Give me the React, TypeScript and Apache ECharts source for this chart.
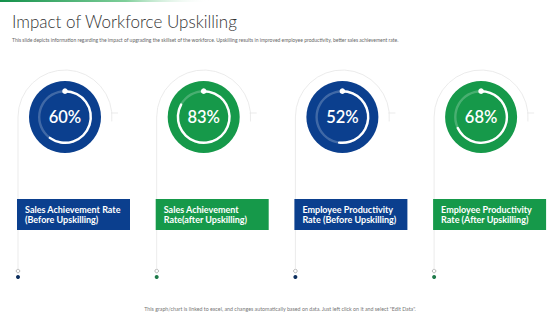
import React, { useEffect, useRef } from "react";
import * as echarts from "echarts";

const categories = [
  "Sales Achievement Rate\n(Before Upskilling)",
  "Sales Achievement\nRate(after Upskilling)",
  "Employee Productivity\nRate (Before Upskilling)",
  "Employee Productivity\nRate (After Upskilling)",
];
const values = [60, 83, 52, 68];
const palette = ["#0b3f8e", "#16994a", "#0b3f8e", "#16994a"];
const dotColors = ["#0d2f5e", "#1f7a4a", "#0d2f5e", "#1f7a4a"];

const titleText = "Impact of Workforce Upskilling";
const subtitleText =
  "This slide depicts information regarding the impact of upgrading the skillset of the workforce. Upskilling results in improved employee productivity, better sales achievement rate.";
const footerText =
  'This graph/chart is linked to excel, and changes automatically based on data. Just left click on it and select "Edit Data".';

const W = 560;
const H = 315;
const boxLeft0 = 17;
const stepX = 138.7;
const boxW = 113;
const boxTop = 199;
const boxH = 31;
const gcx0 = 65;
const gcy = 117;
const bgR = 36;
const ringR = 27;
const outlineR = 47;
const FONT = "Lato, 'Open Sans', sans-serif";

export default function App() {
  const ref = useRef<HTMLDivElement>(null);
  useEffect(() => {
    if (!ref.current) return;
    const chart = echarts.init(ref.current, null, { renderer: "svg" });
    const graphics: any[] = [];
    graphics.push({
      type: "rect",
      shape: { x: 0, y: 0, width: 210, height: 2 },
      style: {
        fill: new echarts.graphic.LinearGradient(0, 0, 1, 0, [
          { offset: 0, color: "#13904a" },
          { offset: 0.6, color: "#7fcf9a" },
          { offset: 1, color: "rgba(255,255,255,0)" },
        ]),
      },
    });
    graphics.push({
      type: "text",
      left: 12,
      top: 13,
      style: { text: titleText, fill: "#333333", font: `300 17px ${FONT}` },
    });
    graphics.push({
      type: "text",
      left: 12,
      top: 37,
      style: { text: subtitleText, fill: "#666666", font: `5px ${FONT}` },
    });
    graphics.push({
      type: "text",
      x: 280,
      y: 309,
      style: {
        text: footerText,
        fill: "#777777",
        font: `5.3px ${FONT}`,
        align: "center",
        verticalAlign: "middle",
      },
    });
    const series: any[] = [];
    categories.forEach((cat, i) => {
      const bx = boxLeft0 + stepX * i;
      const cx = gcx0 + stepX * i;
      const lx = cx - outlineR;
      graphics.push({
        type: "arc",
        shape: { cx, cy: gcy, r: outlineR, startAngle: Math.PI, endAngle: Math.PI * 2.03, clockwise: true },
        style: { stroke: "#e6e6e6", lineWidth: 0.8, fill: "none" },
        z: 1,
      });
      graphics.push({
        type: "line",
        shape: { x1: cx + outlineR - 1, y1: gcy - 4, x2: cx + outlineR + 6, y2: gcy - 4 },
        style: { stroke: "#e6e6e6", lineWidth: 0.8 },
        z: 1,
      });
      graphics.push({
        type: "line",
        shape: { x1: lx, y1: gcy, x2: lx, y2: 268 },
        style: { stroke: "#e6e6e6", lineWidth: 0.8 },
        z: 1,
      });
      graphics.push({
        type: "circle",
        shape: { cx: lx, cy: 271, r: 1.8 },
        style: { stroke: "#9a9a9a", lineWidth: 0.7, fill: "#fff" },
        z: 2,
      });
      graphics.push({
        type: "circle",
        shape: { cx: lx, cy: 277, r: 2 },
        style: { fill: dotColors[i] },
        z: 2,
      });
      graphics.push({
        type: "circle",
        shape: { cx, cy: gcy, r: bgR },
        style: { fill: palette[i] },
        z: 0,
      });
      graphics.push({
        type: "rect",
        shape: { x: bx, y: boxTop, width: boxW, height: boxH },
        style: { fill: palette[i] },
        z: 2,
      });
      graphics.push({
        type: "text",
        x: bx + 8,
        y: boxTop + boxH / 2,
        style: {
          text: cat,
          fill: "#ffffff",
          font: `bold 9px ${FONT}`,
          verticalAlign: "middle",
          lineHeight: 10.5,
        },
        z: 3,
      });
      series.push({
        type: "gauge",
        center: [cx, gcy],
        radius: ringR,
        startAngle: 90,
        endAngle: -270,
        min: 0,
        max: 100,
        clockwise: true,
        z: 5,
        pointer: { show: false },
        progress: { show: true, width: 2.4, roundCap: true, itemStyle: { color: "#ffffff" } },
        axisLine: { lineStyle: { width: 2.4, color: [[1, "rgba(255,255,255,0.22)"]] } },
        axisTick: { show: false },
        splitLine: { show: false },
        axisLabel: { show: false },
        title: { show: false },
        anchor: { show: false },
        detail: {
          offsetCenter: [0, 0],
          formatter: "{value}%",
          color: "#ffffff",
          fontSize: 16.5,
          fontWeight: 600,
          fontFamily: FONT,
        },
        data: [{ value: values[i] }],
      });
      graphics.push({
        type: "circle",
        shape: { cx, cy: gcy - ringR + 1.2, r: 2.8 },
        style: { fill: "#ffffff" },
        z: 10,
      });
    });
    chart.setOption({
      animation: false,
      backgroundColor: "#ffffff",
      series,
      graphic: graphics,
    });
    return () => chart.dispose();
  }, []);
  return <div ref={ref} style={{ width: W, height: H, position: "absolute", left: 0, top: 0 }} />;
}
